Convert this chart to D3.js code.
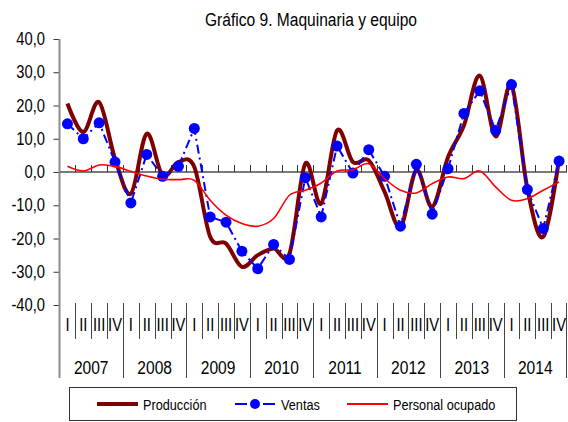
<!DOCTYPE html>
<html>
<head>
<meta charset="utf-8">
<script src="https://cdn.jsdelivr.net/npm/d3@7"></script>
<style>
  body { margin: 0; background: #fff; }
  svg text { font-family: "Liberation Sans", Arial, sans-serif; fill: #000; }
</style>
</head>
<body>
<div id="chart"></div>
<script>
// quarterly variation, 2007-2014
var years = ["2007", "2008", "2009", "2010", "2011", "2012", "2013", "2014"];
var quarters = ["I", "II", "III", "IV"];
var yTicks = [40, 30, 20, 10, 0, -10, -20, -30, -40];

var produccion = [20.6, 12.0, 21.0, 4.0, -6.5, 11.5, -1.0, 3.0,
                  1.5, -19.5, -21.5, -28.5, -25.0, -23.0, -24.5, 2.5,
                  -9.5, 12.5, 3.0, 3.5, -6.0, -16.5, 0.5, -10.5,
                  4.5, 14.0, 29.0, 10.7, 26.1, -5.0, -19.5, 4.0];
var ventas = [14.5, 10.0, 14.8, 3.0, -9.3, 5.3, -1.3, 1.7,
              13.1, -13.5, -15.1, -23.8, -29.1, -21.8, -26.3, -1.7,
              -13.5, 7.8, -0.3, 6.7, -1.3, -16.3, 2.3, -12.7,
              1.0, 17.6, 24.4, 12.5, 26.3, -5.3, -17.0, 3.3];
var personal = [1.7, 0.3, 2.1, 1.7, 0.2, -1.2, -2.2, -2.3,
                -2.5, -8.5, -13.0, -15.5, -16.3, -14.0, -7.0, -5.5,
                -3.3, 0.3, 0.7, 2.5, -2.0, -5.5, -6.3, -3.5,
                -1.5, -2.0, 0.3, -4.5, -8.5, -8.0, -5.5, -3.0];

var width = 568,
    height = 422,
    margin = {top: 39, right: 1, bottom: 117, left: 59.5};

var periods = [];
years.forEach(y => quarters.forEach(q => periods.push(y + "-" + q)));

var svg = d3.select("#chart")
  .append("svg")
  .attr("width", width)
  .attr("height", height);

var x = d3.scaleBand().domain(periods).range([margin.left, width - margin.right]);
var y = d3.scaleLinear().domain([-40, 40]).range([height - margin.bottom, margin.top]);

var locale = d3.formatLocale({decimal: ",", thousands: ".", grouping: [3], currency: ["$", ""], minus: "-"});
var fmt = locale.format(".1f");

// the original uses a narrow face, squeeze Liberation Sans to fake it
function narrowText(g, px, py, size, anchor, txt) {
  return g.append("text")
    .attr("transform", `translate(${px},${py}) scale(0.82,1)`)
    .attr("text-anchor", anchor)
    .style("font-size", size + "px")
    .text(txt);
}

// title
narrowText(svg, 311, 26, 19, "middle", "Gráfico 9. Maquinaria y equipo");

// y axis
var yAxis = d3.axisLeft(y).tickValues(yTicks).tickFormat("").tickSize(6);
var gy = svg.append("g")
  .attr("transform", `translate(${margin.left},0)`)
  .call(yAxis);
gy.select(".domain").remove();
gy.selectAll(".tick line").attr("stroke", "#333");
yTicks.forEach(t => narrowText(svg, 45, y(t) + 6, 18, "end", fmt(t)));
svg.append("line")
  .attr("x1", margin.left).attr("x2", margin.left)
  .attr("y1", margin.top).attr("y2", 378)
  .attr("stroke", "#8c8c8c").attr("stroke-width", 2);

// zero line with quarter ticks
svg.append("line")
  .attr("x1", margin.left).attr("x2", width - margin.right)
  .attr("y1", y(0)).attr("y2", y(0))
  .attr("stroke", "#7a7a7a").attr("stroke-width", 2);
svg.append("g")
  .selectAll("line")
  .data(periods.slice(1).concat(["end"]))
  .enter().append("line")
  .attr("x1", d => d == "end" ? width - margin.right - 0.5 : Math.round(x(d)) + 0.5)
  .attr("x2", d => d == "end" ? width - margin.right - 0.5 : Math.round(x(d)) + 0.5)
  .attr("y1", y(0) - 7).attr("y2", y(0))
  .attr("stroke", "#333").attr("stroke-width", 1);

// category labels below the plot
var bottom = y(-40);
var cat = svg.append("g").attr("class", "categories");
cat.selectAll(".sep")
  .data(periods.slice(1).concat(["end"]))
  .enter().append("line")
  .attr("class", "sep")
  .attr("x1", d => d == "end" ? width - margin.right - 0.5 : Math.round(x(d)) + 0.5)
  .attr("x2", d => d == "end" ? width - margin.right - 0.5 : Math.round(x(d)) + 0.5)
  .attr("y1", bottom - 2)
  .attr("y2", (d, i) => (i + 1) % 4 == 0 ? 378 : 339)
  .attr("stroke", "#444").attr("stroke-width", 1);
periods.forEach(p => narrowText(cat, x(p) + x.bandwidth() / 2, 331, 18, "middle", p.split("-")[1]));
years.forEach(yr => narrowText(cat, x(yr + "-I") + x.bandwidth() * 2, 374, 19, "middle", yr));

var cx = (d, i) => x(periods[i]) + x.bandwidth() / 2;
var line = d3.line().x(cx).y(d => y(d)).curve(d3.curveCatmullRom.alpha(0));
var straight = d3.line().x(cx).y(d => y(d));

/* Producción */
svg.append("path")
  .datum(produccion)
  .attr("fill", "none")
  .attr("stroke", "#7f0000")
  .attr("stroke-width", 4)
  .attr("d", line);

/* Ventas */
svg.append("path")
  .datum(ventas)
  .attr("fill", "none")
  .attr("stroke", "#0000ff")
  .attr("stroke-width", 2)
  .attr("stroke-dasharray", "9,4,2,4")
  .attr("d", straight);
svg.append("g")
  .selectAll("circle")
  .data(ventas)
  .enter().append("circle")
  .attr("cx", cx)
  .attr("cy", d => y(d))
  .attr("r", 5.5)
  .attr("fill", "#0000ff");

/* Personal ocupado */
svg.append("path")
  .datum(personal)
  .attr("fill", "none")
  .attr("stroke", "#ff0000")
  .attr("stroke-width", 1.6)
  .attr("d", line);

// legend
var legend = svg.append("g");
legend.append("rect")
  .attr("x", 69.5).attr("y", 387.5)
  .attr("width", 447).attr("height", 33)
  .attr("fill", "#fff").attr("stroke", "#333").attr("stroke-width", 1);
legend.append("line")
  .attr("x1", 97).attr("x2", 138).attr("y1", 404).attr("y2", 404)
  .attr("stroke", "#7f0000").attr("stroke-width", 4);
narrowText(legend, 143, 409.5, 15.5, "start", "Producción");
legend.append("line")
  .attr("x1", 235).attr("x2", 247).attr("y1", 404).attr("y2", 404)
  .attr("stroke", "#0000ff").attr("stroke-width", 2);
legend.append("line")
  .attr("x1", 263).attr("x2", 275).attr("y1", 404).attr("y2", 404)
  .attr("stroke", "#0000ff").attr("stroke-width", 2);
legend.append("circle").attr("cx", 255).attr("cy", 404).attr("r", 5).attr("fill", "#0000ff");
narrowText(legend, 281, 409.5, 15.5, "start", "Ventas");
legend.append("line")
  .attr("x1", 347).attr("x2", 388).attr("y1", 404).attr("y2", 404)
  .attr("stroke", "#ff0000").attr("stroke-width", 2);
narrowText(legend, 393, 409.5, 15.5, "start", "Personal ocupado");
</script>
</body>
</html>
